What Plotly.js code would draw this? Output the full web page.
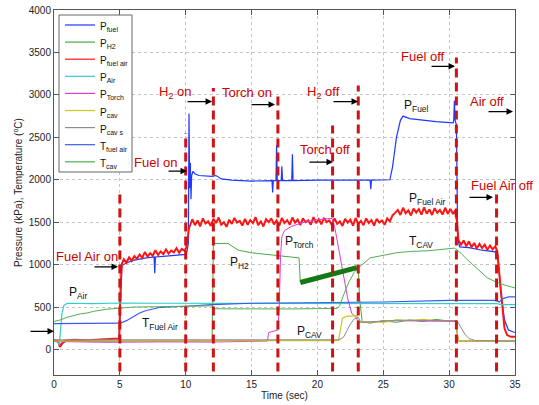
<!DOCTYPE html>
<html>
<head>
<meta charset="utf-8">
<script src="https://cdn.plot.ly/plotly-3.0.1.min.js"></script>
<style>html,body{margin:0;padding:0;background:#fff}#plot{width:539px;height:405px}</style>
</head>
<body>
<div id="plot"></div>
<script>
// ---------- data ----------
const fuelT = [0,0.4,0.5,0.7,1,3,4.95,5.05,5.15,5.5,6,7,7.6,7.65,7.7,8.5,9.5,10.0,10.1,10.2,10.25,10.3,10.35,10.4,10.45,10.55,10.7,11,12,12.3,12.7,13.5,15,16.55,16.6,16.65,16.85,16.9,16.95,17.25,17.3,17.35,18.05,18.1,18.15,20,24.0,24.05,24.1,25.5,25.7,26.0,26.3,26.5,27,28,29,30.3,30.35,30.4,30.45,30.55,30.65,30.8,31.5,32.5,33.5,33.7,33.9,34.2,34.5,35];
const fuelV = [95,90,40,80,100,100,105,600,990,1020,1050,1080,1090,900,1090,1100,1115,1120,1160,1250,2780,1900,2200,1770,2050,2100,2070,2050,2040,2050,2010,1995,1985,1990,1850,1990,1990,2410,1990,1990,2160,1990,1990,2300,1990,1995,1995,1890,1995,2000,2150,2500,2700,2750,2720,2700,2685,2670,2700,2930,2700,2650,1300,1210,1200,1170,1150,1120,700,350,230,200];

const h2T = [0,4,12.0,12.05,12.1,13.2,13.5,14,15,17,18.6,18.65,18.7,23.0,23.1,23.2,23.4,24,25,26,27,28,29,30,30.5,30.6,30.7,35];
const h2V = [100,100,100,600,1250,1250,1220,1170,1140,1110,1080,950,790,960,970,600,330,310,340,320,350,330,355,335,340,200,100,100];

// dense oscillation of P_H2 between 18.7 s and 23 s (drawn as a thick dark band)
const h2BandT = [18.7,23.0];
const h2BandV = [790,965];

const fuelAirT = [0,0.3,0.45,0.6,0.8,1.5,2.5,3.5,4.5,4.95,5.05,5.15,5.3,5.5,5.7,5.9,6.1,6.3,6.5,6.7,6.9,7.1,7.3,7.5,7.7,7.9,8.1,8.3,8.5,8.7,8.9,9.1,9.3,9.5,9.7,9.9,10.05,10.15,10.25,10.35,10.5,10.7,10.9,11.1,11.3,11.5,11.7,11.9,12.1,12.3,12.5,12.7,12.9,13.1,13.3,13.5,13.7,13.9,14.1,14.3,14.5,14.7,14.9,15.1,15.3,15.5,15.7,15.9,16.1,16.3,16.5,16.7,16.9,17.1,17.3,17.5,17.7,17.9,18.1,18.3,18.5,18.7,18.9,19.1,19.3,19.5,19.7,19.9,20.1,20.3,20.5,20.7,20.9,21.1,21.3,21.5,21.7,21.9,22.1,22.3,22.5,22.7,22.9,23.1,23.3,23.5,23.7,23.9,24.1,24.3,24.5,24.7,24.9,25.1,25.3,25.5,25.7,25.9,26.1,26.3,26.5,26.7,26.9,27.1,27.3,27.5,27.7,27.9,28.1,28.3,28.5,28.7,28.9,29.1,29.3,29.5,29.7,29.9,30.1,30.3,30.45,30.6,30.7,30.9,31.1,31.3,31.5,31.7,31.9,32.1,32.3,32.5,32.7,32.9,33.1,33.3,33.5,33.65,33.8,34.0,34.2,34.4,34.7,35];
const fuelAirV = [110,100,30,70,105,115,110,120,125,130,700,1010,1065,1025,1085,1045,1100,1070,1120,1080,1150,1095,1135,1105,1170,1115,1155,1125,1180,1130,1165,1145,1195,1140,1185,1165,1200,1300,1430,1470,1535,1465,1520,1450,1545,1485,1510,1455,1540,1490,1555,1470,1500,1445,1530,1480,1550,1495,1515,1460,1540,1470,1525,1490,1560,1465,1510,1450,1535,1500,1545,1475,1520,1460,1550,1490,1525,1470,1555,1495,1530,1465,1545,1500,1520,1470,1560,1490,1535,1475,1550,1500,1520,1465,1545,1480,1510,1455,1540,1495,1530,1460,1550,1480,1515,1465,1545,1490,1525,1460,1540,1495,1520,1470,1545,1510,1580,1610,1645,1585,1670,1605,1640,1580,1660,1615,1655,1590,1675,1600,1650,1585,1665,1610,1645,1590,1670,1600,1655,1595,1640,1500,1290,1235,1285,1215,1275,1205,1255,1190,1245,1195,1235,1175,1225,1180,1215,1160,900,500,250,170,150,150];

const airT = [0,0.3,0.4,0.5,0.6,0.75,1,3,5,8,10,15,20,25,30,33.6,34,35];
const airV = [100,90,50,200,420,520,545,540,548,545,545,540,542,540,545,540,530,530];

const torchT = [0,4,8,12,16.2,16.3,17.0,17.1,17.2,17.3,17.5,18,19,20,21.1,21.3,21.6,22.0,22.3,22.6,22.9,23.1,23.3,26,30.5,30.7,35];
const torchV = [95,85,90,88,100,200,230,500,1100,1330,1400,1450,1500,1530,1545,1450,1200,850,600,430,380,330,320,340,330,100,95];

const cavT = [0,5,21.6,21.7,21.9,22.2,23.0,23.1,23.3,24,25,26,27,28,29,30.5,30.6,30.7,35];
const cavV = [100,105,105,200,370,390,400,330,320,330,320,350,340,355,340,340,200,100,100];

const cavST = [0,21.5,21.8,22.0,22.2,22.5,22.8,23.1,23.3,26,30.6,30.9,31.2,31.5,32,35];
const cavSV = [115,115,125,150,210,300,360,380,320,345,340,260,180,130,105,100];

const tFuelAirT = [0,4.95,5.05,5.5,6,6.5,7,7.5,8,10,12,15,20,25,30,33.6,33.8,34.1,34.5,35];
const tFuelAirV = [305,305,310,340,390,430,460,480,495,510,530,545,552,560,578,580,560,600,620,620];

const tCavT = [0,0.5,1,2,2.5,3,4,5,6,8,10,12.0,12.2,15,18,21.5,21.7,22.0,22.4,22.8,23.1,24,25,26,27,28.5,30.4,30.8,31.3,31.8,32.4,32.9,33.5,34.2,35];
const tCavV = [330,350,380,420,430,450,475,490,500,505,510,515,480,478,478,485,520,650,800,910,960,1080,1110,1140,1155,1165,1195,1150,1070,1000,910,845,800,760,725];

// events (dashed markers)
const eventTimes = [5.0,10.0,12.1,17.0,21.15,23.1,30.55,33.6];
const eventTops  = [1870,2550,3080,3000,2640,3110,3440,1830];
const eventBottom = -260;

// legend names and colours
const names = ['P<sub>fuel</sub>','P<sub>H2</sub>','P<sub>fuel air</sub>','P<sub>Air</sub>','P<sub>Torch</sub>','P<sub>cav</sub>','P<sub>cav s</sub>','T<sub>fuel air</sub>','T<sub>cav</sub>'];
const colors = ['rgb(30,55,255)','rgb(70,170,70)','rgb(255,20,20)','rgb(50,205,205)','rgb(220,60,220)','rgb(205,200,30)','rgb(140,140,140)','rgb(60,90,235)','rgb(80,175,80)'];
const widths = [1.2,1,2,1.2,1,1.2,1,1.2,1];

// ---------- traces ----------
const series = [[fuelT,fuelV],[h2T,h2V],[fuelAirT,fuelAirV],[airT,airV],[torchT,torchV],[cavT,cavV],[cavST,cavSV],[tFuelAirT,tFuelAirV],[tCavT,tCavV]];
const traces = series.map((s,i)=>({x:s[0],y:s[1],name:names[i],type:'scatter',mode:'lines',showlegend:false,line:{color:colors[i],width:widths[i]}}));
traces.push({x:h2BandT,y:h2BandV,type:'scatter',mode:'lines',showlegend:false,hoverinfo:'skip',line:{color:'rgb(20,120,20)',width:5}});
for(let i=0;i<eventTimes.length;i++){
  traces.push({x:[eventTimes[i],eventTimes[i]],y:[eventBottom,eventTops[i]],type:'scatter',mode:'lines',showlegend:false,hoverinfo:'skip',
    line:{color:'rgb(205,20,20)',width:3,dash:'9px,5px'}});
}

// ---------- annotations ----------
const red = 'rgb(205,0,0)';
const ann = [];
const shapes = [];
const FONT = 'Liberation Sans, Arial, sans-serif';
function txt(x,y,t,color,size,anchor){
  ann.push({x:x,y:y,text:t,showarrow:false,xanchor:anchor||'center',yanchor:'middle',font:{color:color,size:size,family:FONT}});
}
function arr(x,y,ax){
  ann.push({x:x,y:y,ax:ax,ay:0,text:'',showarrow:true,arrowhead:2,arrowsize:1,arrowwidth:1.3,arrowcolor:'#000'});
}
txt(-2.09,321,'Air on',red,13); arr(0,214,-25);
txt(2.54,1093,'Fuel Air on',red,13); arr(4.86,974,-25);
txt(7.71,2209,'Fuel on',red,13); arr(10.1,2102,-20);
txt(9.26,3028,'H<sub>2</sub> on',red,13); arr(12.0,2921,-26);
txt(14.69,3028,'Torch on',red,13); arr(16.78,2886,-25);
txt(20.46,3028,'H<sub>2</sub> off',red,13); arr(23.08,2921,-26);
txt(20.54,2351,'Torch off',red,13); arr(21.18,2209,-25);
txt(28.05,3456,'Fuel off',red,13); arr(30.45,3337,-25);
txt(32.88,2921,'Air off',red,13); arr(34.85,2803,-26);
txt(34.01,1936,'Fuel Air off',red,13); arr(33.33,1793,-25);

const blk = '#111';
txt(26.42,2874,'P<sub>Fuel</sub>',blk,12,'left');
txt(26.8,1770,'P<sub>Fuel Air</sub>',blk,12,'left');
txt(26.8,1271,'T<sub>CAV</sub>',blk,12,'left');
txt(17.39,1271,'P<sub>Torch</sub>',blk,12,'left');
txt(13.2,1021,'P<sub>H2</sub>',blk,12,'left');
txt(0.99,665,'P<sub>Air</sub>',blk,12,'left');
txt(6.53,297,'T<sub>Fuel Air</sub>',blk,12,'left');
txt(18.3,202,'P<sub>CAV</sub>',blk,12,'left');

// ---------- legend box (MATLAB style, drawn in paper coordinates) ----------
const plotL = 54, plotW = 461, plotB = 375, plotH = 365;
const px = v => (v - plotL) / plotW;
const py = v => (plotB - v) / plotH;
shapes.push({type:'rect',xref:'paper',yref:'paper',x0:px(59),x1:px(132),y0:py(172),y1:py(15),line:{color:'#666',width:1},fillcolor:'#fff',layer:'above'});
for(let i=0;i<names.length;i++){
  const yy = 25 + i*17.1;
  shapes.push({type:'line',xref:'paper',yref:'paper',x0:px(65),x1:px(95),y0:py(yy),y1:py(yy),line:{color:colors[i],width:1.2},layer:'above'});
  ann.push({xref:'paper',yref:'paper',x:px(98),y:py(yy+2),text:names[i],showarrow:false,xanchor:'left',yanchor:'middle',font:{size:10,color:'#111',family:FONT}});
}

// ---------- layout ----------
const axisCommon = {
  showline:true, linecolor:'#555', linewidth:1, mirror:'ticks',
  ticks:'inside', ticklen:5, tickcolor:'#555',
  showgrid:true, gridcolor:'#c4c4c4', griddash:'dot', gridwidth:1,
  zeroline:false, tickfont:{size:10,color:'#222'}
};
const layout = {
  width:539, height:405,
  margin:{l:54,r:24,t:10,b:30,pad:0},
  paper_bgcolor:'#fff', plot_bgcolor:'#fff',
  font:{family:FONT,color:'#222'},
  xaxis:Object.assign({},axisCommon,{range:[0,35],tick0:0,dtick:5,title:{text:'Time (sec)',font:{size:10},standoff:2}}),
  yaxis:Object.assign({},axisCommon,{range:[-300,4000],tick0:0,dtick:500,title:{text:'Pressure (kPa), Temperature (<sup>o</sup>C)',font:{size:10},standoff:4}}),
  showlegend:false,
  annotations:ann,
  shapes:shapes
};
Plotly.newPlot('plot',traces,layout,{staticPlot:true,displayModeBar:false});
</script>
</body>
</html>
